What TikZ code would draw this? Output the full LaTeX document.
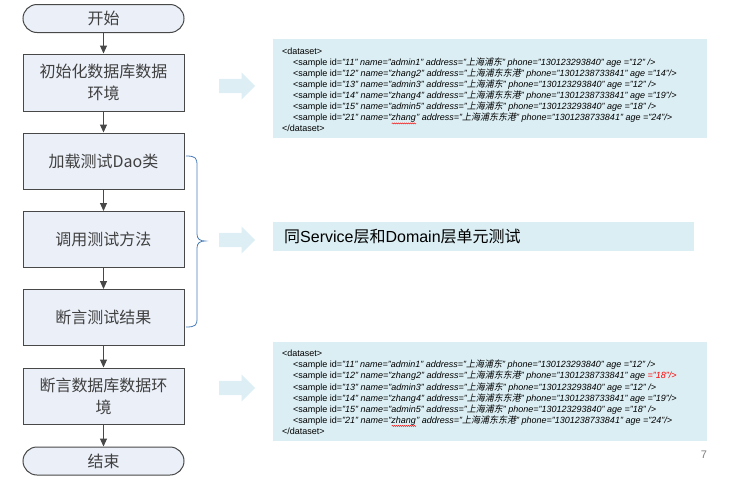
\documentclass[tikz,border=0pt]{standalone}
\usepackage{fontspec}
\setmainfont{Liberation Sans}
\newfontfamily\cjk{Noto Sans CJK SC}
\newfontfamily\cjkit[FakeSlant=0.2]{Noto Sans CJK SC}
\usetikzlibrary{arrows.meta,shapes.arrows,decorations.pathmorphing}
\definecolor{boxfill}{RGB}{234,239,248}
\definecolor{boxline}{RGB}{72,72,72}
\definecolor{boxtext}{RGB}{64,64,64}
\definecolor{dsfill}{RGB}{219,238,243}
\definecolor{arrfill}{RGB}{221,238,245}
\definecolor{bracecol}{RGB}{74,126,187}
\newcommand\zh[1]{{\cjkit\upshape #1}}
\newlength\wavelen
\newcommand\redwave[1]{\settowidth\wavelen{#1}\rlap{#1}\tikz[baseline=0pt,x=1pt,y=1pt]\draw[red,line width=0.4pt,decorate,decoration={snake,amplitude=0.6pt,segment length=2pt}] (0,-2.6) -- (\wavelen,-2.6);}
\tikzset{
  stepbox/.style={draw=boxline, line width=1pt, fill=boxfill, minimum width=161pt, minimum height=56pt,
    inner sep=0pt, align=center, text=boxtext, font=\cjk\fontsize{16}{22}\selectfont},
  termbox/.style={stepbox, minimum height=28pt, rounded corners=14pt},
  flow/.style={draw=boxline, line width=1pt, -{Triangle[length=8pt,width=7pt]}},
  bigarrow/.style={single arrow, fill=arrfill, draw=none, minimum height=36pt, inner sep=0pt,
    inner ysep=7pt, single arrow head extend=6.5pt, anchor=west},
  dsbox/.style={fill=dsfill, draw=none, inner sep=0pt, anchor=north west},
  dstext/.style={anchor=north west, inner sep=0pt, align=left, font=\fontsize{9}{11.1}\selectfont},
  bracestyle/.style={draw=bracecol, line width=0.8pt},
}
\begin{document}
\begin{tikzpicture}[x=1pt,y=-1pt]
\useasboundingbox (0,0) rectangle (732,482);
% flowchart
\node[termbox] (start) at (103.5,18.5) {开始};
\node[stepbox, minimum height=57pt] (b1) at (103.5,82.5) {初始化数据库数据\\环境};
\node[stepbox] (b2) at (103.5,161) {加载测试Dao类};
\node[stepbox] (b3) at (103.5,239.5) {调用测试方法};
\node[stepbox] (b4) at (103.5,317.5) {断言测试结果};
\node[stepbox] (b5) at (103.5,396) {断言数据库数据环\\境};
\node[termbox] (end) at (103.5,461) {结束};
\draw[flow] (start) -- (b1);
\draw[flow] (b1) -- (b2);
\draw[flow] (b2) -- (b3);
\draw[flow] (b3) -- (b4);
\draw[flow] (b4) -- (b5);
\draw[flow] (b5) -- (end);
% brace
\draw[bracestyle] (186,156) .. controls (196,156) and (197,158) .. (197,166) -- (197,234)
  .. controls (197,239) and (200,241) .. (205,241) .. controls (200,241) and (197,243) .. (197,248)
  -- (197,318) .. controls (197,325) and (196,327) .. (186,327);
% block arrows
\node[bigarrow] (a1) at (219,86) {};
\node[bigarrow] (a2) at (219,240) {};
\node[bigarrow] (a3) at (219,388) {};
% dataset box 1
\node[dsbox, minimum width=434pt, minimum height=99pt] (ds1) at (273,39) {};
\node[dstext] (t1) at (282,47.5) {%
<dataset>\\
\hspace*{11pt}<sample id=\textit{"11" name="admin1" address="\zh{上海浦东}" phone="130123293840" age ="12" />}\\
\hspace*{11pt}<sample id=\textit{"12" name="zhang2" address="\zh{上海浦东东港}" phone="1301238733841" age ="14"/>}\\
\hspace*{11pt}<sample id=\textit{"13" name="admin3" address="\zh{上海浦东}" phone="130123293840" age ="12" />}\\
\hspace*{11pt}<sample id=\textit{"14" name="zhang4" address="\zh{上海浦东东港}" phone="1301238733841" age ="19"/>}\\
\hspace*{11pt}<sample id=\textit{"15" name="admin5" address="\zh{上海浦东}" phone="130123293840" age ="18" />}\\
\hspace*{11pt}<sample id=\textit{"21" name="\redwave{zhang}" address="\zh{上海浦东东港}" phone="1301238733841" age ="24"/>}\\
</dataset>};
% middle text box
\node[dsbox, minimum width=421pt, minimum height=29pt] (ds2) at (273,222) {};
\node[anchor=west, inner sep=0pt, font=\fontsize{16}{19}\selectfont] (t2) at (284,236.5) {{\cjk 同}Service{\cjk 层和}Domain{\cjk 层单元测试}};
% dataset box 2
\node[dsbox, minimum width=434pt, minimum height=99pt] (ds3) at (273,342) {};
\node[dstext] (t3) at (282,350) {%
<dataset>\\
\hspace*{11pt}<sample id=\textit{"11" name="admin1" address="\zh{上海浦东}" phone="130123293840" age ="12" />}\\
\hspace*{11pt}<sample id=\textit{"12" name="zhang2" address="\zh{上海浦东东港}" phone="1301238733841" age \textcolor{red}{="18"/>}}\\
\hspace*{11pt}<sample id=\textit{"13" name="admin3" address="\zh{上海浦东}" phone="130123293840" age ="12" />}\\
\hspace*{11pt}<sample id=\textit{"14" name="zhang4" address="\zh{上海浦东东港}" phone="1301238733841" age ="19"/>}\\
\hspace*{11pt}<sample id=\textit{"15" name="admin5" address="\zh{上海浦东}" phone="130123293840" age ="18" />}\\
\hspace*{11pt}<sample id=\textit{"21" name="\redwave{zhang}" address="\zh{上海浦东东港}" phone="1301238733841" age ="24"/>}\\
</dataset>};
% page number
\node[text=gray, font=\fontsize{11}{13}\selectfont, inner sep=0pt] (pg) at (704,455) {7};
\end{tikzpicture}
\end{document}
